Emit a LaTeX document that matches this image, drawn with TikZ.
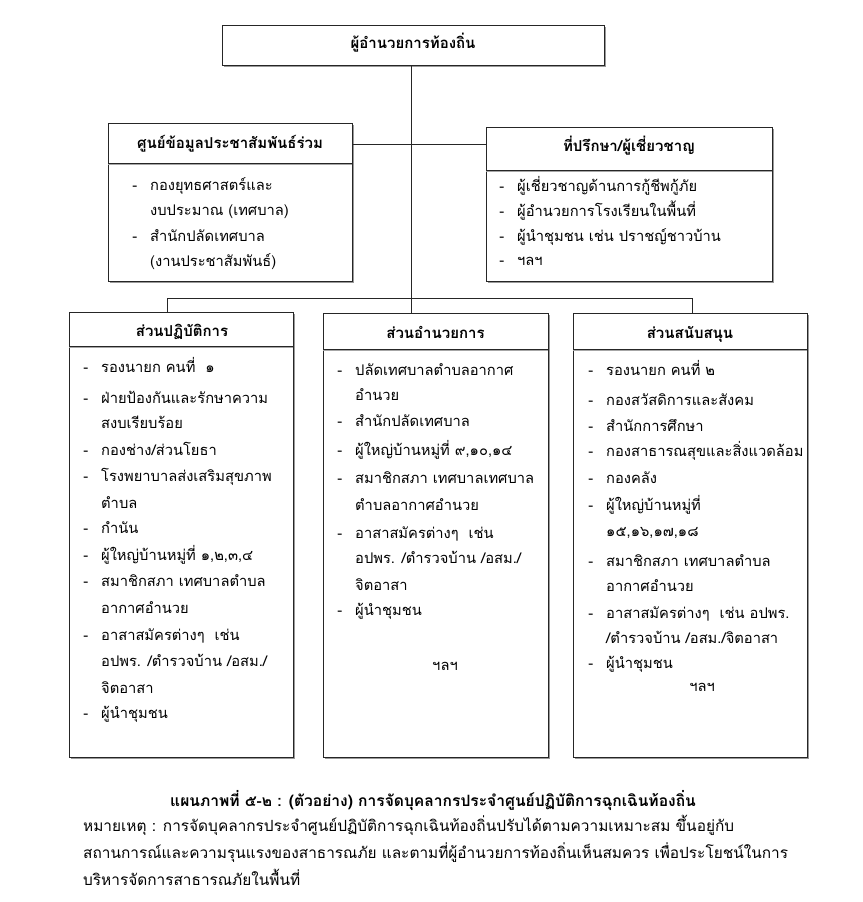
\documentclass[tikz,border=0pt]{standalone}
\usepackage{fontspec}
\newfontfamily\thai[Script=Thai]{Loma}
\newcommand\mybox[5]{%
  \fill[black!40] (#2+1.6,#3+1.6) rectangle (#4+1.6,#5+1.6);
  \node[boxnode, minimum width={#4-#2}, minimum height={#5-#3}] (#1) at ({(#2+#4)/2},{(#3+#5)/2}) {};}
\newcommand\sepl[3]{%
  \draw[black!85, line width=1pt] (#1.west |- 0,#2) -- (#1.east |- 0,#2);
  \draw[black!35, line width=0.8pt] (#1.west |- 0,#3) -- (#1.east |- 0,#3);}
\newcommand\itm[4]{\node[tx] (#1) at (#2,#3) {\llap{-\hspace{13pt}}#4};}
\newcommand\cnt[4]{\node[tx] (#1) at (#2,#3) {#4};}
\begin{document}
\begin{tikzpicture}[x=1pt,y=-1pt,
  boxnode/.style={draw=black!85, line width=0.9pt, fill=white, inner sep=0pt, outer sep=0pt},
  hd/.style={font=\thai\bfseries\fontsize{15}{18}\selectfont, inner sep=0pt, text height=11pt, text depth=4pt},
  tx/.style={anchor=west, font=\thai\fontsize{14.7}{18}\selectfont, inner sep=0pt, text height=11pt, text depth=4pt},
  note/.style={tx, font=\thai\fontsize{15.4}{18}\selectfont},
  conn/.style={line width=0.9pt, draw=black!85}]
\fill[white] (0,0) rectangle (862,902);
\useasboundingbox (0,0) rectangle (862,902);

% boxes
\mybox{top}{222}{25}{604}{65}
\node[hd] (toph) at (413,45) {ผู้อำนวยการท้องถิ่น};

\mybox{ul}{108}{123}{352}{281}
\sepl{ul}{163}{164.8}
\node[hd] (ulh) at (230,145) {ศูนย์ข้อมูลประชาสัมพันธ์ร่วม};

\mybox{ur}{486}{127}{772}{281}
\sepl{ur}{170}{171.8}
\node[hd] (urh) at (629,148) {ที่ปรึกษา/ผู้เชี่ยวชาญ};

\mybox{bl}{69}{312}{293}{757}
\sepl{bl}{346}{347.8}
\node[hd] (blh) at (182,333) {ส่วนปฏิบัติการ};

\mybox{bm}{323}{313}{548}{757}
\sepl{bm}{349}{350.8}
\node[hd] (bmh) at (435.5,335) {ส่วนอำนวยการ};

\mybox{br}{573}{313}{807}{757}
\sepl{br}{349}{350.8}
\node[hd] (brh) at (690,335) {ส่วนสนับสนุน};

% connectors
\coordinate (spine) at (411,298);
\coordinate (dl) at (167,298);
\coordinate (dr) at (692,298);
\coordinate (hy) at (0,144);
\draw[conn] (top.south -| spine) -- (spine);
\draw[conn] (dl) -- (dr);
\draw[conn] (dl) -- (dl |- bl.north);
\draw[conn] (spine) -- (spine |- bm.north);
\draw[conn] (dr) -- (dr |- br.north);
\draw[conn] (ul.east |- hy) -- (ur.west |- hy);

% upper left items
\itm{ul1}{150}{187}{กองยุทธศาสตร์และ}
\cnt{ul2}{150}{212}{งบประมาณ (เทศบาล)}
\itm{ul3}{150}{238}{สำนักปลัดเทศบาล}
\cnt{ul4}{150}{263}{(งานประชาสัมพันธ์)}

% upper right items
\itm{ur1}{517}{188}{ผู้เชี่ยวชาญด้านการกู้ชีพกู้ภัย}
\itm{ur2}{517}{213}{ผู้อำนวยการโรงเรียนในพื้นที่}
\itm{ur3}{517}{238}{ผู้นำชุมชน เช่น ปราชญ์ชาวบ้าน}
\itm{ur4}{517}{262}{ฯลฯ}

% bottom left items
\itm{bl1}{101}{369}{รองนายก คนที่ \ ๑}
\itm{bl2}{101}{400}{ฝ่ายป้องกันและรักษาความ}
\cnt{bl3}{101}{425}{สงบเรียบร้อย}
\itm{bl4}{101}{452}{กองช่าง/ส่วนโยธา}
\itm{bl5}{101}{478}{โรงพยาบาลส่งเสริมสุขภาพ}
\cnt{bl6}{101}{505}{ตำบล}
\itm{bl7}{101}{530}{กำนัน}
\itm{bl8}{101}{557}{ผู้ใหญ่บ้านหมู่ที่ ๑,๒,๓,๔}
\itm{bl9}{101}{583}{สมาชิกสภา เทศบาลตำบล}
\cnt{bl10}{101}{610}{อากาศอำนวย}
\itm{bl11}{101}{637}{อาสาสมัครต่างๆ \ เช่น}
\cnt{bl12}{101}{663}{อปพร. /ตำรวจบ้าน /อสม./}
\cnt{bl13}{101}{690}{จิตอาสา}
\itm{bl14}{101}{715}{ผู้นำชุมชน}

% bottom middle items
\itm{bm1}{355}{372}{ปลัดเทศบาลตำบลอากาศ}
\cnt{bm2}{355}{397}{อำนวย}
\itm{bm3}{355}{423}{สำนักปลัดเทศบาล}
\itm{bm4}{355}{452}{ผู้ใหญ่บ้านหมู่ที่ ๙,๑๐,๑๔}
\itm{bm5}{355}{480}{สมาชิกสภา เทศบาลเทศบาล}
\cnt{bm6}{355}{507}{ตำบลอากาศอำนวย}
\itm{bm7}{355}{535}{อาสาสมัครต่างๆ \ เช่น}
\cnt{bm8}{355}{560}{อปพร. /ตำรวจบ้าน /อสม./}
\cnt{bm9}{355}{587}{จิตอาสา}
\itm{bm10}{355}{612}{ผู้นำชุมชน}
\node[tx, anchor=center] (bm11) at (445,667) {ฯลฯ};

% bottom right items
\itm{br1}{606}{372}{รองนายก คนที่ ๒}
\itm{br2}{606}{402}{กองสวัสดิการและสังคม}
\itm{br3}{606}{428}{สำนักการศึกษา}
\itm{br4}{606}{453}{กองสาธารณสุขและสิ่งแวดล้อม}
\itm{br5}{606}{480}{กองคลัง}
\itm{br6}{606}{507}{ผู้ใหญ่บ้านหมู่ที่}
\cnt{br7}{606}{533}{๑๕,๑๖,๑๗,๑๘}
\itm{br8}{606}{563}{สมาชิกสภา เทศบาลตำบล}
\cnt{br9}{606}{588}{อากาศอำนวย}
\itm{br10}{606}{615}{อาสาสมัครต่างๆ \ เช่น อปพร.}
\cnt{br11}{606}{640}{/ตำรวจบ้าน /อสม./จิตอาสา}
\itm{br12}{606}{665}{ผู้นำชุมชน}
\node[tx, anchor=center] (br13) at (702,688) {ฯลฯ};

% caption and note
\node[tx, font=\thai\bfseries\fontsize{15.6}{18}\selectfont] (cap) at (170,803) {แผนภาพที่ ๕-๒ : (ตัวอย่าง) การจัดบุคลากรประจำศูนย์ปฏิบัติการฉุกเฉินท้องถิ่น};
\node[note] (n1) at (83,828) {หมายเหตุ : การจัดบุคลากรประจำศูนย์ปฏิบัติการฉุกเฉินท้องถิ่นปรับได้ตามความเหมาะสม ขึ้นอยู่กับ};
\node[note] (n2) at (83,855) {สถานการณ์และความรุนแรงของสาธารณภัย และตามที่ผู้อำนวยการท้องถิ่นเห็นสมควร เพื่อประโยชน์ในการ};
\node[note] (n3) at (83,882) {บริหารจัดการสาธารณภัยในพื้นที่};
\end{tikzpicture}
\end{document}
